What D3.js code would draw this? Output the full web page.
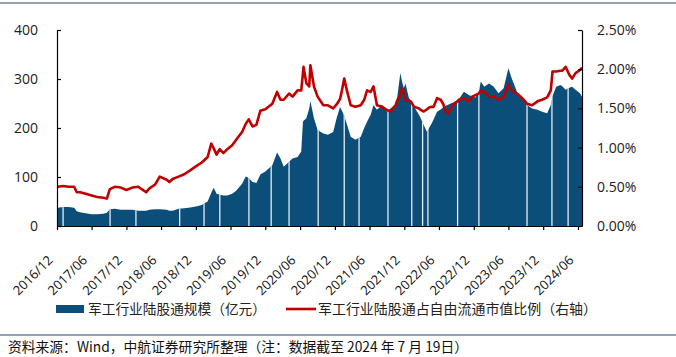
<!DOCTYPE html>
<html><head><meta charset="utf-8">
<script src="https://cdn.jsdelivr.net/npm/d3@7"></script>
<style>body{margin:0;background:#fff} svg{display:block}</style>
</head><body><svg id="c" width="676" height="357"></svg>
<script>
// ---------- data ----------
const dates = [
"2016-12-05","2017-01-03","2017-02-01","2017-03-01","2017-03-15","2017-04-01","2017-05-01","2017-06-01","2017-07-01","2017-08-01",
"2017-08-20","2017-09-05","2017-10-01","2017-11-01","2017-12-01","2018-01-01","2018-02-01","2018-03-15","2018-04-01","2018-05-01",
"2018-05-25","2018-07-01","2018-07-15","2018-08-01","2018-09-01","2018-10-01","2018-11-01","2018-12-01","2019-01-01","2019-02-01",
"2019-02-20","2019-03-05","2019-03-20","2019-04-05","2019-04-25","2019-05-15","2019-06-10","2019-07-01","2019-08-01","2019-08-20",
"2019-09-05","2019-09-25","2019-10-15","2019-11-05","2019-12-01","2020-01-07","2020-02-01","2020-02-19","2020-03-07","2020-04-04",
"2020-04-22","2020-05-19","2020-06-07","2020-06-16","2020-06-19","2020-07-04","2020-07-19","2020-07-25","2020-08-13","2020-09-01",
"2020-10-01","2020-10-25","2020-11-22","2020-12-10","2020-12-28","2021-01-07","2021-01-19","2021-02-04","2021-02-22","2021-03-19",
"2021-04-16","2021-05-04","2021-05-19","2021-06-07","2021-06-22","2021-07-10","2021-08-07","2021-09-01","2021-09-19","2021-10-01",
"2021-10-16","2021-10-25","2021-11-10","2021-11-19","2021-11-28","2021-12-07","2021-12-25","2022-01-04","2022-01-22","2022-02-16",
"2022-02-25","2022-03-13","2022-03-30","2022-04-10","2022-04-25","2022-05-04","2022-05-22","2022-06-10","2022-06-25","2022-07-04",
"2022-07-22","2022-08-01","2022-08-19","2022-09-07","2022-09-13","2022-10-10","2022-11-07","2022-11-22","2022-12-10","2022-12-28",
"2023-01-07","2023-01-25","2023-02-19","2023-03-16","2023-04-10","2023-05-07","2023-06-01","2023-06-19","2023-07-16","2023-08-13",
"2023-09-07","2023-10-04","2023-11-01","2023-11-25","2023-12-22","2024-01-10","2024-01-19","2024-02-07","2024-03-01","2024-03-10",
"2024-03-28","2024-04-16","2024-05-01","2024-05-19","2024-06-25","2024-07-19"
];
// 军工行业陆股通规模（亿元）
const scaleValues = [
37,39,39,37,30,28,26,24,24,25,
27,34,35,33,33,33,31,31,33,34,
34,33,31,31,35,36,38,40,43,50,
68,78,66,64,62,62,66,72,86,101,
98,90,88,105,111,124,150,138,121,131,
138,141,152,213,215,220,240,255,220,196,
189,186,192,220,243,235,225,205,182,176,
182,200,213,227,247,237,247,233,240,243,
250,264,312,295,281,291,261,255,243,227,
220,206,192,200,210,218,233,238,243,245,
248,250,252,257,258,274,267,265,262,275,
295,284,291,284,271,281,322,301,274,261,
247,240,237,233,230,247,265,284,288,285,
278,282,284,278,271,264
];
// 军工行业陆股通占自由流通市值比例（%，右轴）
const ratioValues = [
0.50,0.51,0.50,0.50,0.43,0.43,0.41,0.39,0.37,0.36,
0.35,0.47,0.50,0.49,0.46,0.49,0.50,0.43,0.48,0.53,
0.63,0.59,0.56,0.60,0.63,0.66,0.71,0.76,0.81,0.88,
1.05,0.99,0.91,0.98,0.93,0.98,1.03,1.10,1.20,1.30,
1.36,1.27,1.29,1.47,1.49,1.56,1.71,1.61,1.61,1.69,
1.65,1.73,1.73,1.95,2.03,1.82,1.78,2.05,1.78,1.65,
1.54,1.54,1.50,1.55,1.62,1.73,1.88,1.71,1.54,1.52,
1.54,1.61,1.73,1.71,1.78,1.54,1.52,1.48,1.46,1.50,
1.54,1.60,1.67,1.76,1.70,1.61,1.60,1.59,1.52,1.50,
1.48,1.46,1.49,1.51,1.52,1.52,1.63,1.61,1.55,1.46,
1.44,1.50,1.56,1.59,1.61,1.63,1.59,1.65,1.67,1.69,
1.73,1.71,1.65,1.65,1.61,1.65,1.80,1.73,1.69,1.63,
1.56,1.54,1.59,1.61,1.64,1.73,1.97,1.97,1.98,1.98,
2.03,1.93,1.88,1.95,1.99,2.02
];
// market closures (white gaps in the bars)
const closedDates = [
"2017-01-02","2017-09-06","2018-01-20","2018-09-07","2019-01-13","2019-04-06","2019-09-06","2020-01-01",
"2020-04-04","2020-09-04","2021-01-19","2021-04-07","2021-09-06","2022-01-09","2022-03-07","2022-04-04",
"2022-09-07","2022-12-28","2023-09-07","2024-01-16","2024-04-10"
];
const xTickLabels = ["2016/12","2017/06","2017/12","2018/06","2018/12","2019/06","2019/12","2020/06","2020/12",
"2021/06","2021/12","2022/06","2022/12","2023/06","2023/12","2024/06"];
const leftTicks = [0,100,200,300,400];
const rightTicks = [0,0.5,1,1.5,2,2.5];
const legendLabels = ["军工行业陆股通规模（亿元）","军工行业陆股通占自由流通市值比例（右轴）"];
const sourceNote = "资料来源：Wind，中航证券研究所整理（注：数据截至 2024 年 7 月 19日）";

// ---------- drawing ----------
const BLUE = "#0c4e7a", RED = "#c00000", NAVY = "#23466e";
const parse = d3.timeParse("%Y-%m-%d");
const data = dates.map((d,i)=>({d:parse(d), v:scaleValues[i], r:ratioValues[i]}));
const tickDates = xTickLabels.map(s=>{const [y,m]=s.split("/").map(Number); return new Date(y,m-1,1);});

const svg = d3.select("#c");
const x = d3.scaleTime().domain([new Date(2016,11,1), new Date(2024,5,1), new Date(2024,6,19)]).range([57,578,582]);
const yL = d3.scaleLinear().domain([0,400]).range([226,30]);
const yR = d3.scaleLinear().domain([0,2.5]).range([226,30]);

// top rule
svg.append("line").attr("x1",0).attr("x2",676).attr("y1",3).attr("y2",3).attr("stroke",NAVY).attr("stroke-width",1.2);

// area (bars)
const area = d3.area().x(d=>x(d.d)).y0(yL(0)).y1(d=>yL(d.v)).curve(d3.curveLinear);
svg.append("clipPath").attr("id","ac").append("path").datum(data).attr("d",area);
svg.append("path").datum(data).attr("d",area).attr("fill",BLUE);
svg.append("g").attr("clip-path","url(#ac)").selectAll("line").data(closedDates).join("line")
  .attr("x1",d=>x(parse(d))).attr("x2",d=>x(parse(d))).attr("y1",yL(0)).attr("y2",30)
  .attr("stroke","#fff").attr("stroke-width",1.3).attr("opacity",0.9);

// ratio line
const line = d3.line().x(d=>x(d.d)).y(d=>yR(d.r)).curve(d3.curveLinear);
svg.append("path").datum(data).attr("d",line).attr("fill","none").attr("stroke",RED).attr("stroke-width",2.6).attr("stroke-linejoin","round");

// axes
const fontNum = "'Open Sans','Noto Sans',sans-serif";
const gl = svg.append("g").attr("transform","translate(57,0)")
  .call(d3.axisLeft(yL).tickValues(leftTicks).tickSizeInner(-4).tickSizeOuter(0).tickPadding(19).tickFormat(d3.format("d")));
const gr = svg.append("g").attr("transform","translate(582,0)")
  .call(d3.axisRight(yR).tickValues(rightTicks).tickSizeInner(-4).tickSizeOuter(0).tickPadding(15).tickFormat(d=>d3.format(".2f")(d)+"%"));
const gb = svg.append("g").attr("transform","translate(0,226)")
  .call(d3.axisBottom(x).tickValues(tickDates).tickSizeInner(4).tickSizeOuter(0).tickFormat((d,i)=>xTickLabels[i]));
[gl,gr,gb].forEach(g=>{
  g.select(".domain").attr("stroke","#000").attr("stroke-width",1.2);
  g.selectAll(".tick line").attr("stroke","#000").attr("stroke-width",1.2);
  g.selectAll("text").attr("fill","#222").style("font-family",fontNum);
});
gl.selectAll("text").style("font-size","14px");
gr.selectAll("text").style("font-size","14px");
gb.selectAll("text").style("font-size","13px").attr("fill","#111").attr("y",0).attr("dy",0).attr("x",0)
  .attr("transform","translate(-4,35) rotate(-45)").style("text-anchor","end");

// legend
const cjk = "'Noto Sans CJK SC','Noto Sans',sans-serif";
svg.append("rect").attr("x",56).attr("y",305).attr("width",28).attr("height",8).attr("fill",BLUE);
svg.append("text").attr("x",88).attr("y",314).text(legendLabels[0]).attr("font-family",cjk).attr("font-size",14)
  .attr("fill","#222").attr("textLength",178).attr("lengthAdjust","spacingAndGlyphs");
svg.append("line").attr("x1",286).attr("x2",316).attr("y1",309).attr("y2",309).attr("stroke",RED).attr("stroke-width",2.6);
svg.append("text").attr("x",318).attr("y",314).text(legendLabels[1]).attr("font-family",cjk).attr("font-size",14)
  .attr("fill","#222").attr("textLength",279).attr("lengthAdjust","spacingAndGlyphs");

// footer
svg.append("line").attr("x1",0).attr("x2",676).attr("y1",335).attr("y2",335).attr("stroke",NAVY).attr("stroke-width",1.2);
svg.append("text").attr("x",8).attr("y",352).text(sourceNote).attr("font-family",cjk).attr("font-size",14)
  .attr("fill","#111").attr("textLength",460).attr("lengthAdjust","spacingAndGlyphs");
</script></body></html>
